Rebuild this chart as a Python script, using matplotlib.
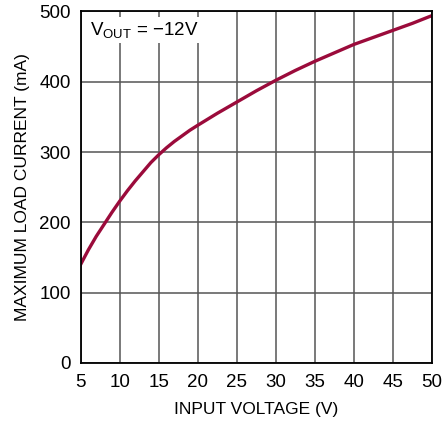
import matplotlib
matplotlib.use("Agg")
import matplotlib.pyplot as plt

plt.rcParams['font.family'] = ['Liberation Sans', 'DejaVu Sans']

# curve
vin = [5, 6, 7, 8, 9, 10, 11, 12, 13, 14, 15, 16, 17, 18, 19, 20,
       22.5, 25, 27.5, 30, 32.5, 35, 37.5, 40, 42.5, 45, 47.5, 50]
iload = [140, 161, 180, 197, 214, 230, 245, 259, 272, 285, 296, 306, 315, 323, 331, 338,
         355, 371, 387, 402, 416, 429, 441, 453, 463, 473, 483, 494]

xticks = [5, 10, 15, 20, 25, 30, 35, 40, 45, 50]
yticks = [0, 100, 200, 300, 400, 500]

fig = plt.figure(figsize=(4.43, 4.22), dpi=100)
ax = fig.add_axes([0.182, 0.14, 0.793, 0.833])

ax.plot(vin, iload, color='#9b0b3b', lw=2.4, solid_joinstyle='round')

ax.set_xlim(5, 50)
ax.set_ylim(0, 500)
ax.set_xticks(xticks)
ax.set_yticks(yticks)
ax.grid(True, color='#555555', lw=1.1)
ax.set_axisbelow(True)
ax.tick_params(length=0, labelsize=13.5)
ax.tick_params(axis='x', pad=8)
ax.tick_params(axis='y', pad=7)
for s in ax.spines.values():
    s.set_linewidth(1.3)
    s.set_color('black')

ax.set_xlabel('INPUT VOLTAGE (V)', fontsize=12.5, labelpad=8)
ax.set_ylabel('MAXIMUM LOAD CURRENT (mA)', fontsize=12.5, labelpad=7)

ax.text(6.2, 473, 'V$_{\\mathregular{OUT}}$ = \u221212V',
        fontsize=13.5, va='center', ha='left',
        bbox=dict(facecolor='white', edgecolor='none', pad=2))

fig.savefig('out.png', dpi=100)
